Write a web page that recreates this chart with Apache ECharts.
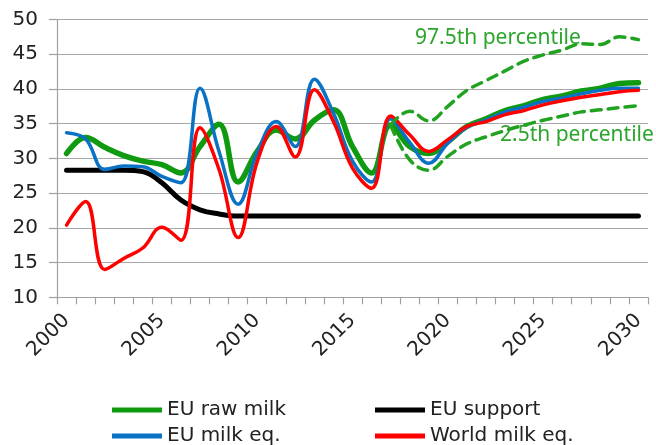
<!DOCTYPE html>
<html>
<head>
<meta charset="utf-8">
<script src="https://cdn.jsdelivr.net/npm/echarts@6/dist/echarts.min.js"></script>
<style>
html,body{margin:0;padding:0;background:#fff;}
#chart{width:656px;height:445px;}
</style>
</head>
<body>
<div id="chart"></div>
<script>
const years = [];
for (let y = 2000; y <= 2030; y++) years.push(String(y));

const euRawMilk = [30.7,33.0,31.6,30.4,29.6,29.1,27.9,31.7,34.9,26.6,31.0,34.1,32.8,35.5,37.0,31.7,27.9,34.8,31.7,30.7,32.4,34.6,35.7,36.9,37.6,38.5,39.0,39.7,40.1,40.8,40.9];
const euMilkEq = [33.7,32.8,28.4,28.9,28.8,27.4,26.5,40.1,31.0,23.4,30.8,35.3,31.7,41.4,36.5,29.6,26.6,35.7,32.3,29.3,32.2,34.5,35.5,36.7,37.4,38.2,38.7,39.3,39.8,40.1,40.1];
const worldMilkEq = [20.4,23.8,14.0,15.6,17.1,20.1,18.2,34.4,28.4,18.6,29.5,34.6,30.2,39.9,35.3,28.6,25.7,36.1,33.4,31.0,32.7,34.6,35.3,36.3,36.9,37.7,38.3,38.8,39.2,39.6,39.8];
const euSupport = [28.3,28.3,28.3,28.3,28.1,26.5,24.0,22.6,22.0,21.7,21.7,21.7,21.7,21.7,21.7,21.7,21.7,21.7,21.7,21.7,21.7,21.7,21.7,21.7,21.7,21.7,21.7,21.7,21.7,21.7,21.7];
const pct975 = [null,null,null,null,null,null,null,null,null,null,null,null,null,null,null,null,null,34.8,36.8,35.4,37.5,39.8,41.2,42.6,44.0,44.9,45.6,46.5,46.4,47.5,47.1];
const pct025 = [null,null,null,null,null,null,null,null,null,null,null,null,null,null,null,null,null,34.8,29.8,28.3,30.3,32.1,33.1,34.0,34.8,35.5,36.1,36.7,37.0,37.3,37.6];
const yTicks = {min: 10, max: 50, interval: 5};

const FONT = 'DejaVu Sans';
const chart = echarts.init(document.getElementById('chart'), null, {renderer: 'canvas'});
const smooth = 0.4;
function line(name, data, color, width, z, dashed) {
  return {
    name, type: 'line', data, smooth, symbol: 'none', showSymbol: false, z,
    connectNulls: false,
    lineStyle: {color, width, type: dashed ? [10, 7] : 'solid', cap: 'round', join: 'round'},
    itemStyle: {color},
    emphasis: {disabled: true}
  };
}
function legendItem(name, left, top) {
  return {
    data: [name], left, top, orient: 'horizontal',
    icon: 'rect', itemWidth: 50, itemHeight: 5, padding: 0,
    textStyle: {fontFamily: FONT, fontSize: 20, color: '#222', lineHeight: 20}
  };
}
chart.setOption({
  animation: false,
  backgroundColor: '#fff',
  grid: {left: 57, right: 8, top: 19.5, bottom: 147.7, containLabel: false},
  xAxis: {
    type: 'category', data: years, boundaryGap: true,
    axisLine: {show: true, lineStyle: {color: '#a0a0a0', width: 1.2}},
    axisTick: {show: true, interval: 0, length: 7, lineStyle: {color: '#a0a0a0', width: 1.2}},
    axisLabel: {interval: 4, rotate: 45, margin: 20, fontFamily: FONT, fontSize: 20, color: '#222'},
    splitLine: {show: false}
  },
  yAxis: {
    type: 'value', min: yTicks.min, max: yTicks.max, interval: yTicks.interval,
    axisLine: {show: true, lineStyle: {color: '#a0a0a0', width: 1.2}},
    axisTick: {show: true, length: 8, lineStyle: {color: '#a0a0a0', width: 1.2}},
    axisLabel: {margin: 19, fontFamily: FONT, fontSize: 20, color: '#222'},
    splitLine: {show: true, lineStyle: {color: '#a8a8a8', width: 1.2}}
  },
  legend: [
    legendItem('EU raw milk', 112, 400),
    legendItem('EU milk eq.', 112, 426),
    legendItem('EU support', 375, 400),
    legendItem('World milk eq.', 375, 426)
  ],
  graphic: [
    {type: 'text', left: 415, top: 28, style: {text: '97.5th percentile', fill: '#2ca52c', font: '21px "Noto Sans"'}},
    {type: 'text', left: 500, top: 125, style: {text: '2.5th percentile', fill: '#2ca52c', font: '21px "Noto Sans"'}}
  ],
  series: [
    line('EU support', euSupport, '#000000', 5, 2),
    line('EU raw milk', euRawMilk, '#0f9a0f', 5.5, 3),
    line('EU milk eq.', euMilkEq, '#0a72c4', 3.5, 4),
    line('World milk eq.', worldMilkEq, '#ff0000', 3.5, 5),
    line('97.5th percentile', pct975, '#21a321', 3.5, 6, true),
    line('2.5th percentile', pct025, '#21a321', 3.5, 6, true)
  ]
});
</script>
</body>
</html>
